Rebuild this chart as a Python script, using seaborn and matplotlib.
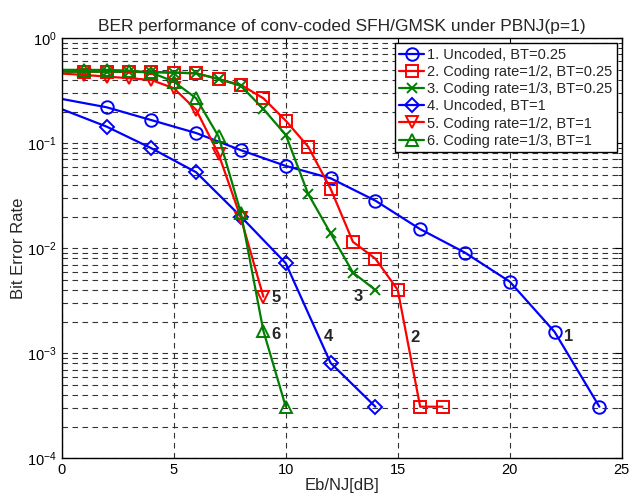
import numpy as np
import pandas as pd
import matplotlib
matplotlib.use("Agg")
import matplotlib.pyplot as plt
import seaborn as sns
from matplotlib.ticker import FixedLocator, LogLocator, NullFormatter

sns.set_style("white")
plt.rcParams['font.family'] = ['Liberation Sans', 'DejaVu Sans']
plt.rcParams['mathtext.fontset'] = 'custom'
plt.rcParams['mathtext.rm'] = 'Liberation Sans'
plt.rcParams['mathtext.it'] = 'Liberation Sans:italic'
plt.rcParams['mathtext.bf'] = 'Liberation Sans:bold'

# ---- data ----
x1 = [0, 2, 4, 6, 8, 10, 12, 14, 16, 18, 20, 22, 24]
y1 = [0.264, 0.220, 0.166, 0.125, 0.0858, 0.0608, 0.0464, 0.0284, 0.0152, 0.00908, 0.00481, 0.00160, 0.00031]

x2 = [0, 1, 2, 3, 4, 5, 6, 7, 8, 9, 10, 11, 12, 13, 14, 15, 16, 17]
y2 = [0.48, 0.48, 0.48, 0.478, 0.478, 0.470, 0.464, 0.407, 0.359, 0.268, 0.164, 0.0928, 0.0370, 0.0115, 0.00796, 0.00401, 0.00031, 0.00031]

x3 = [0, 1, 2, 3, 4, 5, 6, 7, 8, 9, 10, 11, 12, 13, 14]
y3 = [0.48, 0.48, 0.48, 0.478, 0.475, 0.470, 0.462, 0.410, 0.351, 0.212, 0.120, 0.0329, 0.0139, 0.00586, 0.00401]

x4 = [0, 2, 4, 6, 8, 10, 12, 14]
y4 = [0.211, 0.144, 0.0896, 0.0529, 0.0200, 0.0072, 0.00081, 0.00031]

x5 = [0, 1, 2, 3, 4, 5, 6, 7, 8, 9]
y5 = [0.46, 0.447, 0.431, 0.416, 0.400, 0.334, 0.208, 0.079, 0.0193, 0.00346]

x6 = [0, 1, 2, 3, 4, 5, 6, 7, 8, 9, 10]
y6 = [0.50, 0.499, 0.499, 0.491, 0.470, 0.386, 0.268, 0.116, 0.0216, 0.00164, 0.00031]

labels = ["1. Uncoded, BT=0.25",
          "2. Coding rate=1/2, BT=0.25",
          "3. Coding rate=1/3, BT=0.25",
          "4. Uncoded, BT=1",
          "5. Coding rate=1/2, BT=1",
          "6. Coding rate=1/3, BT=1"]
curve_tags = ["1", "2", "3", "4", "5", "6"]
tag_x = [22.4, 15.55, 13.05, 11.7, 9.35, 9.35]
tag_y = [0.00145, 0.00142, 0.0035, 0.00145, 0.0034, 0.00150]

series = [(x1, y1), (x2, y2), (x3, y3), (x4, y4), (x5, y5), (x6, y6)]
colors = ["#0000ff", "#ff0000", "#008000", "#0000ff", "#ff0000", "#008000"]
markers = ["o", "s", "x", "D", "v", "^"]
msizes = [9, 8, 7, 7.5, 9, 9]

fig = plt.figure(figsize=(6.43, 4.96), dpi=100)
ax = fig.add_axes([0.096, 0.076, 0.871, 0.847])

for (xs, ys), c, m, ms, lab in zip(series, colors, markers, msizes, labels):
    df = pd.DataFrame({"x": xs, "y": ys})
    sns.lineplot(data=df, x="x", y="y", ax=ax, color=c, marker=m,
                 markersize=ms, markerfacecolor="none", markeredgecolor=c,
                 markeredgewidth=1.4, linewidth=1.6, label=lab,
                 estimator=None, sort=False, markevery=slice(1, None))

ax.set_yscale("log")
ax.set_xlim(0, 25)
ax.set_ylim(1e-4, 1)
ax.set_xticks([0, 5, 10, 15, 20, 25])
ax.yaxis.set_major_locator(FixedLocator([1e-4, 1e-3, 1e-2, 1e-1, 1]))
ax.yaxis.set_minor_locator(LogLocator(base=10, subs=np.arange(2, 10)))
ax.yaxis.set_minor_formatter(NullFormatter())
ax.set_yticklabels([r"$10^{-4}$", r"$10^{-3}$", r"$10^{-2}$", r"$10^{-1}$", r"$10^{0}$"])

gkw = dict(color="#333333", linestyle=(0, (5, 4)), linewidth=0.8)
ax.grid(True, which="major", axis="both", **gkw)
ax.grid(True, which="minor", axis="y", **gkw)

ax.tick_params(axis="both", which="both", direction="in", top=True, right=True,
               labelsize=10.5, colors="black")
ax.tick_params(which="major", length=5)
ax.tick_params(which="minor", length=3)
for s in ax.spines.values():
    s.set_color("black")
    s.set_linewidth(1.0)

ax.set_xlabel("Eb/NJ[dB]", fontsize=12)
ax.set_ylabel("Bit Error Rate", fontsize=12)
ax.xaxis.set_label_coords(0.5, -0.048)
ax.yaxis.set_label_coords(-0.063, 0.5)
ax.set_title("BER performance of conv-coded SFH/GMSK under PBNJ(p=1)", fontsize=12.5, pad=5)

for t, tx, ty in zip(curve_tags, tag_x, tag_y):
    ax.text(tx, ty, t, fontsize=12, fontweight="bold", ha="left", va="center")

leg = ax.legend(loc="upper right", fontsize=10.5, frameon=True, fancybox=False,
                edgecolor="black", framealpha=1, handlelength=1.7,
                handletextpad=0.2, borderpad=0.3, labelspacing=0.22,
                borderaxespad=0.35)
leg.get_frame().set_linewidth(1.0)

fig.savefig("out.png", dpi=100)
